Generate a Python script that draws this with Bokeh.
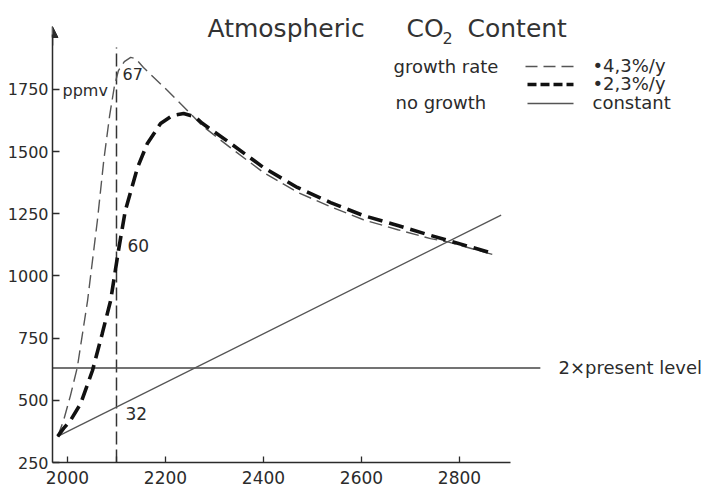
from bokeh.plotting import figure
from bokeh.models import Range1d, FixedTicker, Label, Arrow, NormalHead
from bokeh.embed import file_html
from bokeh.resources import INLINE

# ---- data ----
years_43 = [1980, 1992, 2006, 2020, 2041, 2061, 2074, 2086, 2096, 2104, 2116, 2129, 2139,
            2155, 2204, 2250, 2275, 2333, 2400, 2469, 2537, 2604, 2674, 2741, 2776, 2872]
ppm_43 = [355, 419, 519, 632, 901, 1223, 1464, 1645, 1766, 1826, 1862, 1879, 1874,
          1838, 1746, 1655, 1604, 1515, 1416, 1337, 1278, 1226, 1186, 1150, 1137, 1084]

years_23 = [1980, 1992, 2006, 2027, 2051, 2071, 2088, 2104, 2118, 2143, 2163, 2190, 2214,
            2237, 2260, 2275, 2333, 2400, 2469, 2537, 2604, 2674, 2741, 2776, 2870]
ppm_23 = [355, 387, 419, 487, 620, 769, 901, 1102, 1263, 1436, 1533, 1613, 1645,
          1653, 1640, 1614, 1533, 1436, 1356, 1295, 1243, 1203, 1163, 1143, 1090]

const_years = [1980, 2885]
const_ppm = [355, 1245]

double_level = 630
double_years = [1969.4, 2965]

marker_year = 2100
marker_ppm = [250, 1919]

x_ticks = [2000, 2100, 2200, 2400, 2600, 2800]
y_ticks = [250, 500, 750, 1000, 1250, 1500, 1750]

# ---- layout ----
W, H = 727, 492
L, B = 52, 30
X0, XPX = 1969.4, 0.49      # year at frame left, px per year
Y0, YPX = 250, 0.2487       # ppm at frame bottom, px per ppm
x_end = X0 + (W - L) / XPX
y_end = Y0 + (H - B) / YPX


def X(px):
    return X0 + (px - L) / XPX


def Y(py):
    return Y0 + (H - B - py) / YPX


FONT = "DejaVu Sans"
INK = "#2b2b2b"

p = figure(width=W, height=H, x_range=Range1d(X0, x_end), y_range=Range1d(Y0, y_end),
           output_backend="svg", toolbar_location=None,
           min_border_left=L, min_border_right=0, min_border_top=0, min_border_bottom=B)
p.outline_line_color = None
p.grid.visible = False
p.background_fill_color = "white"
p.border_fill_color = "white"

for ax in (p.xaxis, p.yaxis):
    ax.axis_line_color = INK
    ax.axis_line_width = 1.5
    ax.major_tick_line_color = INK
    ax.major_tick_line_width = 1.3
    ax.minor_tick_line_color = None
    ax.major_tick_out = 0
    ax.major_label_text_font = FONT
    ax.major_label_text_color = INK
    ax.major_label_text_font_size = "16px"

p.xaxis.ticker = FixedTicker(ticks=x_ticks)
p.xaxis.major_label_overrides = {2100: ""}
p.xaxis.bounds = (X0, X(510))
p.xaxis.major_tick_in = 6
p.xaxis.major_label_standoff = 8
p.xaxis.major_label_text_font_size = "17px"

p.yaxis.ticker = FixedTicker(ticks=y_ticks)
p.yaxis.bounds = (Y0, Y(34))
p.yaxis.major_tick_in = 7
p.yaxis.major_label_standoff = 4

# arrow head on the y axis
p.add_layout(Arrow(end=NormalHead(size=11, fill_color=INK, line_color=INK, line_width=1),
                   x_start=X0, y_start=Y(45), x_end=X0, y_end=Y(26),
                   line_color=INK, line_width=1.5))

# reference lines
p.line([marker_year, marker_year], marker_ppm, line_color="#333", line_width=1.5, line_dash="13 5")
p.line(double_years, [double_level, double_level], line_color="#444", line_width=1.3)

# series
p.line(const_years, const_ppm, line_color="#555", line_width=1.3)
p.line(years_43, ppm_43, line_color="#555", line_width=1.4, line_dash="13 6")
p.line(years_23, ppm_23, line_color="#111", line_width=3.6, line_dash="15 7")


def label(txt, px, py, size, align="left", baseline="middle", color=INK):
    p.add_layout(Label(x=X(px), y=Y(py), text=txt, text_font=FONT, text_font_size=f"{size}px",
                       text_align=align, text_baseline=baseline, text_color=color))


# title
label("Atmospheric", 207, 28, 25, baseline="alphabetic", color="#333")
label("CO", 406, 28, 25, baseline="alphabetic", color="#333")
label("2", 442, 37, 16, baseline="alphabetic", color="#333")
label("Content", 467, 28, 25, baseline="alphabetic", color="#333")

# legend
label("growth rate", 393, 66, 18)
label("no growth", 395, 102, 18)
label("\u20224,3%/y", 592, 65, 18)
label("\u20222,3%/y", 592, 83, 18)
label("constant", 592, 102, 18)
p.add_layout(Arrow(end=None, x_start=X(525), y_start=Y(66), x_end=X(573), y_end=Y(66),
                   line_color="#555", line_width=1.4, line_dash="12 6"))
p.add_layout(Arrow(end=None, x_start=X(527), y_start=Y(84), x_end=X(573), y_end=Y(84),
                   line_color="#111", line_width=3.6, line_dash="9 4"))
p.add_layout(Arrow(end=None, x_start=X(527), y_start=Y(103), x_end=X(573), y_end=Y(103),
                   line_color="#555", line_width=1.3))

# annotations
label("ppmv", 62, 90, 16)
label("67", 122, 73, 16)
label("60", 127, 245, 17)
label("32", 125, 413, 17)
label("2\u00d7present level", 558, 367, 18)

open("out.html", "w").write(file_html(p, INLINE))
